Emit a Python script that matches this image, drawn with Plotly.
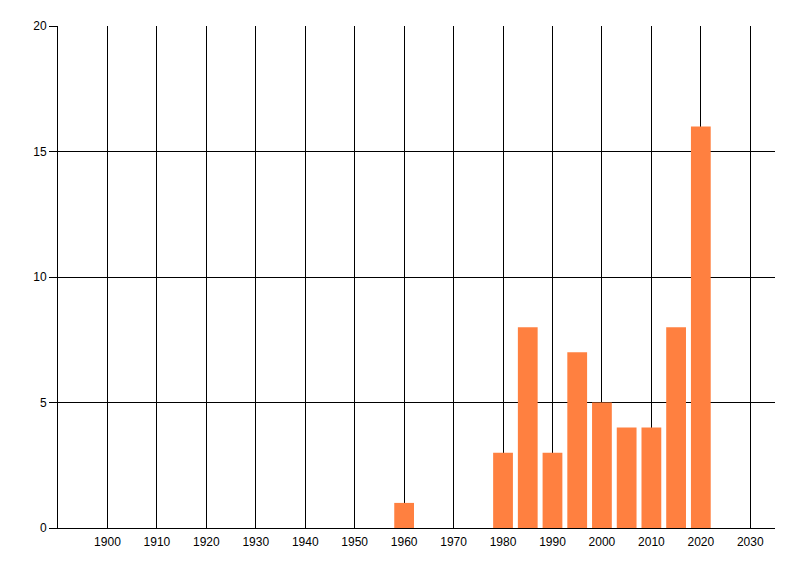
import plotly.graph_objects as go

years = [1960, 1980, 1985, 1990, 1995, 2000, 2005, 2010, 2015, 2020]
counts = [1, 3, 8, 3, 7, 5, 4, 4, 8, 16]
x_ticks = list(range(1900, 2031, 10))
y_ticks = [0, 5, 10, 15, 20]

fig = go.Figure(go.Bar(x=years, y=counts, width=4, marker_color='#FF8040',
                       marker_line_width=0))

# page body adds 8px offset, so margins are shifted to compensate
fig.update_layout(
    width=800, height=576,
    margin=dict(l=49.5, r=32.5, t=18, b=56),
    plot_bgcolor='white', paper_bgcolor='white',
    font=dict(family='Liberation Sans', size=12, color='black'),
    showlegend=False,
)
fig.update_xaxes(range=[1890, 2035], tickvals=x_ticks, showgrid=True,
                 gridcolor='black', gridwidth=1, showline=True, linecolor='black',
                 linewidth=1, ticks='', ticklabelstandoff=3, zeroline=False)
fig.update_yaxes(range=[0, 20], tickvals=y_ticks, showgrid=True,
                 gridcolor='black', gridwidth=1, showline=True, linecolor='black',
                 linewidth=1, ticks='outside', ticklen=8, tickcolor='black',
                 zeroline=False)

fig.write_html('out.html')
